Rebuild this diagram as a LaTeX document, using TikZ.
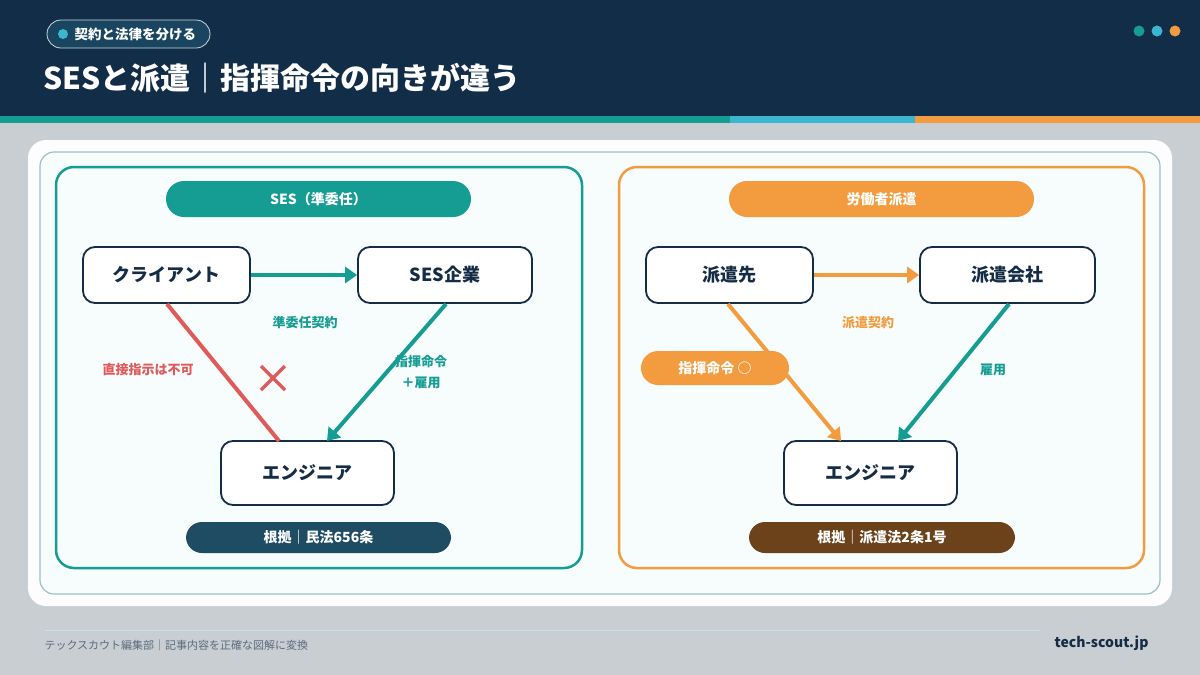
\documentclass[tikz,border=0pt]{standalone}
\usepackage{fontspec}
\setmainfont{Noto Sans CJK JP}
\usetikzlibrary{arrows.meta}
\definecolor{navy}{HTML}{122D47}
\definecolor{teal}{HTML}{159C93}
\definecolor{cyanc}{HTML}{3BB5D0}
\definecolor{orng}{HTML}{F29C3F}
\definecolor{redc}{HTML}{E05A5A}
\definecolor{ink}{HTML}{142C45}
\definecolor{bgc}{HTML}{C9CED3}
\definecolor{brn}{HTML}{6B4219}
\definecolor{slate}{HTML}{1E4C63}
\tikzset{
 box/.style={draw=ink,line width=1.8pt,fill=white,rounded corners=12pt,minimum width=#1,minimum height=56pt,font=\fontsize{18}{20}\selectfont\bfseries,text=ink},
 box/.default=170pt,
 pill/.style={rounded corners=16pt,fill=#1,text=white,font=\fontsize{14}{16}\selectfont\bfseries,minimum height=34pt},
 lab/.style={font=\fontsize{13}{15}\selectfont\bfseries,text=#1,align=center},
 arr/.style={line width=4pt,draw=#1,-{Triangle[length=12pt,width=16pt,fill=#1]}},
}
\begin{document}
\begin{tikzpicture}[x=1pt,y=-1pt]
\useasboundingbox (0,0) rectangle (1200,675);
\fill[bgc] (0,0) rectangle (1200,675);
\fill[navy] (0,0) rectangle (1200,116);
\fill[teal] (0,116) rectangle (730,123);
\fill[cyanc] (730,116) rectangle (915,123);
\fill[orng] (915,116) rectangle (1200,123);
\node[draw=white!80!navy,fill=navy!70!cyanc!60!navy,rounded corners=14pt,minimum width=163pt,minimum height=28pt,line width=0.8pt] (tag) at (128.5,34) {};
\fill[cyanc] (63,34) circle (5);
\node[anchor=west,text=white,font=\fontsize{13.5}{16}\selectfont\bfseries] (tagt) at (71,34) {契約と法律を分ける};
\node[anchor=west,text=white,font=\fontsize{30}{34}\selectfont\bfseries] (title) at (40,78) {SESと派遣｜指揮命令の向きが違う};
\fill[teal] (1139,31) circle (5.5);
\fill[cyanc] (1157,31) circle (5.5);
\fill[orng] (1175,31) circle (5.5);
% cards
\fill[white!96!bgc,rounded corners=18pt] (28,140) rectangle (1172,606);
\draw[draw=teal!25!bgc,fill=white!96!cyanc,line width=1.2pt,rounded corners=14pt] (40,152) rectangle (1160,594);
\draw[teal,line width=2.5pt,rounded corners=18pt] (56,167) rectangle (582,568);
\draw[orng,line width=2.5pt,rounded corners=18pt] (619,167) rectangle (1144,568);
% left
\node[pill=teal,minimum width=305pt,minimum height=36pt,rounded corners=18pt] (lh) at (318.5,199) {SES（準委任）};
\node[box=167pt] (cl) at (166.5,275) {クライアント};
\node[box=174pt] (ses) at (445,275) {SES企業};
\node[box=173pt,minimum height=64pt] (eng1) at (307.5,473) {エンジニア};
\draw[arr=teal] (cl.east) -- (ses.west);
\coordinate (a1) at (167,304); \coordinate (a2) at (279,441);
\draw[redc,line width=4pt] (a1) -- (a2);
\coordinate (b1) at (446,304); \coordinate (b2) at (327,441);
\draw[arr=teal] (b1) -- (b2);
\node[lab=teal] (l1) at (305,323) {準委任契約};
\node[lab=redc] (l2) at (148,370) {直接指示は不可};
\node[lab=teal,font=\fontsize{13}{21}\selectfont\bfseries] (l3) at (421,372) {指揮命令\\＋雇用};
\draw[redc,line width=3.5pt] (261,366) -- (285,390) (285,366) -- (261,390);
\node[pill=slate,minimum width=265pt,minimum height=31pt] (lf) at (318.5,537.5) {根拠｜民法656条};
% right
\node[pill=orng,minimum width=305pt,minimum height=36pt,rounded corners=18pt] (rh) at (881.5,199) {労働者派遣};
\node[box=167pt] (hs) at (729.5,275) {派遣先};
\node[box=175pt] (hk) at (1007.5,275) {派遣会社};
\node[box=173pt,minimum height=64pt] (eng2) at (870.5,473) {エンジニア};
\draw[arr=orng] (hs.east) -- (hk.west);
\coordinate (c1) at (728,304); \coordinate (c2) at (841,441);
\draw[arr=orng] (c1) -- (c2);
\coordinate (d1) at (1009,304); \coordinate (d2) at (898,441);
\draw[arr=teal] (d1) -- (d2);
\node[lab=orng] (l4) at (868,323) {派遣契約};
\node[lab=teal] (l5) at (993,370) {雇用};
\node[pill=orng,minimum width=148pt,minimum height=34pt,rounded corners=17pt] (cmd) at (715,368) {指揮命令 ○};
\node[pill=brn,minimum width=266pt,minimum height=31pt] (rf) at (882,537.5) {根拠｜派遣法2条1号};
% footer
\draw[white!70!cyanc!80!bgc,line width=0.8pt] (45,630) -- (1040,630);
\node[anchor=west,text=ink!70,font=\fontsize{11}{13}\selectfont] (ft) at (41,645) {テックスカウト編集部｜記事内容を正確な図解に変換};
\node[anchor=east,text=ink,font=\fontsize{14}{16}\selectfont\bfseries] (url) at (1152,643) {tech-scout.jp};
\end{tikzpicture}
\end{document}
